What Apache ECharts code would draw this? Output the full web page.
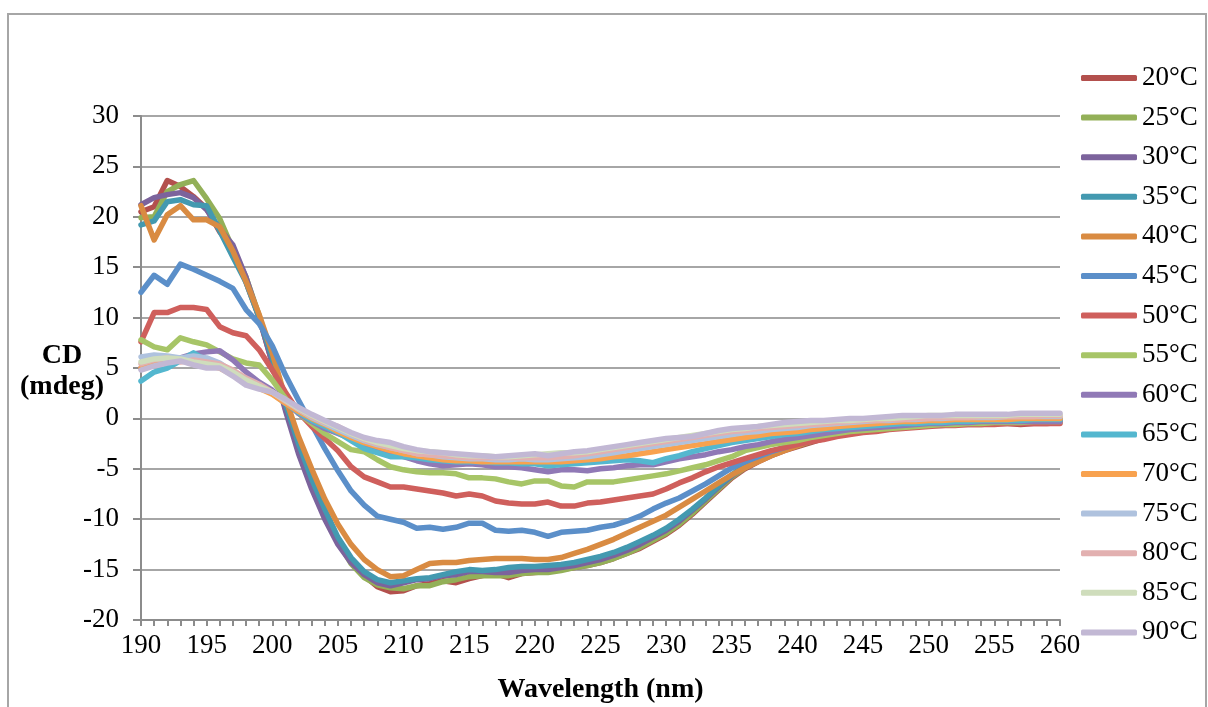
<!DOCTYPE html>
<html lang="en">
<head>
    <meta charset="UTF-8">
    <title>CD</title>
    <script src="https://cdn.jsdelivr.net/npm/echarts@6/dist/echarts.min.js"></script>
</head>
<style>
    body{ margin: 0; background: #fff; }
    #main{ width: 1208px; height: 707px; }
</style>
<body>
<div id="main"></div>
</body>
<script>
    var wavelength = [];
    for (var w = 190; w <= 260; w++) { wavelength.push(w); }

    var names = ['20°C','25°C','30°C','35°C','40°C','45°C','50°C','55°C','60°C','65°C','70°C','75°C','80°C','85°C','90°C'];
    var colors = ['#B3504D','#93B058','#7C639C','#4399B0','#D98B42','#5B8FC9','#CF5F5C','#A7C567','#9079B6','#54B7CF','#F8A24F','#AFC2DE','#E2B0B0','#CFDDBC','#C2B8D4'];

    var t20 = [20.5,21.0,23.6,23.0,22.0,20.8,18.5,16.8,13.5,10.0,5.5,1.0,-3.0,-6.5,-9.5,-12.0,-14.2,-15.6,-16.7,-17.2,-17.1,-16.6,-16.4,-16.1,-16.3,-15.9,-15.6,-15.4,-15.8,-15.4,-15.3,-15.2,-15.0,-14.8,-14.6,-14.3,-13.9,-13.4,-12.9,-12.2,-11.5,-10.6,-9.5,-8.3,-7.1,-5.9,-5.0,-4.3,-3.7,-3.2,-2.8,-2.4,-2.0,-1.7,-1.5,-1.3,-1.1,-1.0,-0.9,-0.8,-0.7,-0.7,-0.6,-0.6,-0.6,-0.5,-0.5,-0.6,-0.5,-0.5,-0.4];
    var t25 = [19.9,20.0,22.5,23.2,23.6,21.8,19.8,16.8,14.0,10.2,5.8,1.0,-2.8,-6.4,-9.5,-12.2,-14.4,-15.8,-16.5,-16.8,-16.9,-16.6,-16.6,-16.2,-16.0,-15.7,-15.6,-15.6,-15.6,-15.4,-15.3,-15.3,-15.1,-14.8,-14.6,-14.3,-13.9,-13.4,-12.8,-12.1,-11.4,-10.5,-9.4,-8.2,-7.0,-5.8,-4.9,-4.2,-3.6,-3.1,-2.7,-2.3,-1.9,-1.6,-1.4,-1.2,-1.1,-1.0,-0.9,-0.8,-0.7,-0.6,-0.6,-0.5,-0.5,-0.4,-0.4,-0.4,-0.4,-0.3,-0.3];
    var t30 = [21.2,21.9,22.2,22.4,21.9,20.7,18.8,17.2,14.0,10.0,5.5,0.8,-3.5,-7.0,-10.0,-12.5,-14.3,-15.5,-16.3,-16.6,-16.3,-16.0,-15.9,-15.6,-15.5,-15.2,-15.2,-15.3,-15.3,-15.1,-15.0,-15.0,-14.8,-14.6,-14.3,-14.0,-13.6,-13.1,-12.5,-11.8,-11.1,-10.2,-9.1,-8.0,-6.8,-5.7,-4.8,-4.1,-3.5,-3.0,-2.5,-2.1,-1.8,-1.5,-1.3,-1.1,-1.0,-0.8,-0.7,-0.6,-0.5,-0.5,-0.4,-0.4,-0.4,-0.3,-0.3,-0.3,-0.3,-0.2,-0.2];
    var t35 = [19.2,19.6,21.5,21.7,21.2,21.1,18.6,16.0,13.5,10.0,6.0,1.5,-2.5,-6.0,-9.0,-11.8,-13.8,-15.2,-16.0,-16.3,-16.1,-15.9,-15.8,-15.5,-15.2,-15.0,-15.1,-15.0,-14.8,-14.7,-14.7,-14.6,-14.5,-14.3,-14.0,-13.7,-13.3,-12.8,-12.2,-11.6,-10.9,-10.0,-9.0,-7.9,-6.7,-5.6,-4.7,-4.0,-3.4,-2.9,-2.4,-2.0,-1.7,-1.4,-1.2,-1.0,-0.9,-0.8,-0.6,-0.5,-0.5,-0.4,-0.4,-0.3,-0.3,-0.3,-0.3,-0.2,-0.2,-0.2,-0.2];
    var t40 = [21.1,17.7,20.2,21.1,19.7,19.7,19.0,16.6,13.6,10.3,6.5,2.0,-1.8,-5.0,-8.0,-10.5,-12.5,-14.0,-15.0,-15.7,-15.6,-15.0,-14.4,-14.3,-14.3,-14.1,-14.0,-13.9,-13.9,-13.9,-14.0,-14.0,-13.8,-13.4,-13.0,-12.5,-12.0,-11.4,-10.8,-10.2,-9.6,-8.8,-8.0,-7.2,-6.4,-5.6,-4.9,-4.3,-3.7,-3.2,-2.7,-2.2,-1.8,-1.5,-1.2,-1.0,-0.8,-0.7,-0.5,-0.4,-0.4,-0.3,-0.3,-0.2,-0.2,-0.2,-0.2,-0.1,-0.1,-0.1,-0.1];
    var t45 = [12.5,14.2,13.3,15.3,14.8,14.2,13.6,12.9,10.8,9.4,7.2,4.3,1.8,-0.6,-3.0,-5.2,-7.2,-8.6,-9.7,-10.0,-10.3,-10.9,-10.8,-11.0,-10.8,-10.4,-10.4,-11.1,-11.2,-11.1,-11.3,-11.7,-11.3,-11.2,-11.1,-10.8,-10.6,-10.2,-9.7,-9.0,-8.4,-7.9,-7.2,-6.5,-5.7,-4.9,-4.3,-3.8,-3.3,-2.9,-2.5,-2.2,-1.9,-1.6,-1.4,-1.2,-1.0,-0.9,-0.8,-0.7,-0.6,-0.5,-0.5,-0.4,-0.4,-0.3,-0.3,-0.3,-0.2,-0.2,-0.2];
    var t50 = [7.6,10.5,10.5,11.0,11.0,10.8,9.1,8.5,8.2,6.8,4.8,2.6,0.6,-0.8,-2.0,-3.2,-4.8,-5.8,-6.3,-6.8,-6.8,-7.0,-7.2,-7.4,-7.7,-7.5,-7.7,-8.2,-8.4,-8.5,-8.5,-8.3,-8.7,-8.7,-8.4,-8.3,-8.1,-7.9,-7.7,-7.5,-7.0,-6.4,-5.9,-5.3,-4.8,-4.4,-4.0,-3.6,-3.2,-2.9,-2.6,-2.3,-2.1,-1.8,-1.6,-1.4,-1.3,-1.1,-1.0,-0.9,-0.8,-0.7,-0.7,-0.6,-0.6,-0.6,-0.5,-0.5,-0.5,-0.5,-0.5];
    var t55 = [7.8,7.1,6.8,8.0,7.6,7.3,6.6,5.9,5.5,5.3,3.8,2.0,0.5,-0.5,-1.5,-2.3,-3.1,-3.3,-4.1,-4.8,-5.1,-5.3,-5.4,-5.4,-5.5,-5.9,-5.9,-6.0,-6.3,-6.5,-6.2,-6.2,-6.7,-6.8,-6.3,-6.3,-6.3,-6.1,-5.9,-5.7,-5.5,-5.2,-4.9,-4.6,-4.2,-3.8,-3.2,-2.9,-2.6,-2.4,-2.2,-1.9,-1.7,-1.5,-1.3,-1.2,-1.1,-1.0,-0.9,-0.8,-0.7,-0.6,-0.6,-0.5,-0.5,-0.4,-0.4,-0.4,-0.3,-0.3,-0.3];
    var t60 = [5.0,5.4,5.8,6.0,6.4,6.6,6.7,5.8,4.6,3.6,2.8,1.6,0.5,-0.3,-1.0,-1.5,-2.0,-2.5,-3.0,-3.4,-3.8,-4.2,-4.5,-4.7,-4.6,-4.5,-4.6,-4.8,-4.8,-4.9,-5.1,-5.3,-5.1,-5.1,-5.2,-5.0,-4.9,-4.7,-4.6,-4.6,-4.3,-4.0,-3.8,-3.6,-3.3,-3.1,-2.8,-2.6,-2.3,-2.1,-1.9,-1.7,-1.5,-1.3,-1.1,-1.0,-0.9,-0.8,-0.7,-0.6,-0.5,-0.5,-0.4,-0.4,-0.3,-0.3,-0.3,-0.3,-0.3,-0.3,-0.3];
    var t65 = [3.7,4.6,5.0,5.7,6.5,5.7,5.2,4.6,3.8,3.2,2.5,1.5,0.6,-0.2,-0.8,-1.4,-2.2,-3.0,-3.4,-3.8,-3.8,-3.9,-4.1,-4.2,-4.3,-4.3,-4.3,-4.4,-4.4,-4.5,-4.5,-4.7,-4.6,-4.5,-4.4,-4.3,-4.2,-4.1,-4.2,-4.4,-4.0,-3.7,-3.3,-3.0,-2.7,-2.4,-2.2,-2.0,-1.8,-1.6,-1.5,-1.3,-1.1,-1.0,-0.9,-0.8,-0.7,-0.6,-0.5,-0.5,-0.4,-0.4,-0.3,-0.3,-0.2,-0.2,-0.2,-0.2,-0.1,-0.1,-0.1];
    var t70 = [5.0,5.5,5.8,5.8,5.5,5.3,5.0,4.3,3.6,3.0,2.4,1.5,0.7,0.0,-0.6,-1.3,-1.9,-2.4,-2.8,-3.2,-3.5,-3.7,-3.9,-4.1,-4.2,-4.2,-4.3,-4.3,-4.3,-4.3,-4.3,-4.3,-4.3,-4.2,-4.1,-4.0,-3.8,-3.7,-3.5,-3.3,-3.1,-2.9,-2.7,-2.5,-2.3,-2.1,-1.9,-1.7,-1.5,-1.4,-1.3,-1.1,-1.0,-0.8,-0.7,-0.6,-0.5,-0.4,-0.3,-0.3,-0.2,-0.2,-0.1,-0.1,-0.1,-0.1,-0.1,0.0,0.0,0.0,0.0];
    var t75 = [6.1,6.3,6.2,6.0,6.2,6.0,5.5,4.6,3.6,3.0,2.6,1.8,0.9,0.1,-0.5,-1.1,-1.7,-2.2,-2.6,-2.9,-3.2,-3.5,-3.6,-3.8,-3.9,-4.0,-4.0,-4.1,-4.1,-4.0,-4.1,-4.1,-4.0,-3.9,-3.8,-3.6,-3.4,-3.2,-3.0,-2.8,-2.6,-2.4,-2.2,-2.0,-1.8,-1.6,-1.4,-1.3,-1.1,-1.0,-0.9,-0.7,-0.6,-0.5,-0.4,-0.3,-0.2,-0.2,-0.1,-0.1,0.0,0.0,0.1,0.1,0.1,0.1,0.2,0.2,0.2,0.2,0.2];
    var t80 = [5.4,5.8,6.0,5.6,5.8,5.6,5.4,4.8,4.0,3.4,2.6,1.7,0.9,0.2,-0.4,-0.8,-1.5,-2.1,-2.5,-2.9,-3.2,-3.5,-3.6,-3.7,-3.8,-3.9,-3.9,-3.9,-3.9,-3.9,-3.9,-3.9,-3.8,-3.7,-3.5,-3.3,-3.1,-2.9,-2.7,-2.5,-2.3,-2.1,-1.9,-1.7,-1.5,-1.3,-1.2,-1.0,-0.9,-0.8,-0.7,-0.6,-0.5,-0.4,-0.3,-0.2,-0.2,-0.1,-0.1,0.0,0.0,0.1,0.1,0.1,0.2,0.2,0.2,0.2,0.2,0.3,0.3];
    var t85 = [5.6,5.9,6.0,5.9,5.6,5.4,5.2,4.6,3.8,3.2,2.6,1.8,1.0,0.3,-0.3,-0.9,-1.5,-2.0,-2.4,-2.7,-3.0,-3.2,-3.3,-3.4,-3.6,-3.7,-3.7,-3.8,-3.8,-3.7,-3.6,-3.5,-3.4,-3.4,-3.3,-3.1,-2.9,-2.7,-2.5,-2.3,-2.1,-1.9,-1.7,-1.5,-1.3,-1.1,-1.0,-0.8,-0.7,-0.6,-0.5,-0.4,-0.3,-0.2,-0.2,-0.1,0.0,0.0,0.1,0.2,0.3,0.3,0.3,0.3,0.3,0.3,0.3,0.4,0.4,0.4,0.4];
    var t90 = [4.8,5.2,5.5,5.7,5.3,5.0,5.0,4.2,3.3,2.9,2.6,1.9,1.1,0.4,-0.2,-0.8,-1.4,-1.9,-2.2,-2.4,-2.8,-3.1,-3.3,-3.4,-3.5,-3.6,-3.7,-3.8,-3.7,-3.6,-3.5,-3.7,-3.5,-3.3,-3.2,-3.0,-2.8,-2.6,-2.4,-2.2,-2.0,-1.9,-1.8,-1.5,-1.2,-1.0,-0.9,-0.8,-0.6,-0.4,-0.3,-0.2,-0.2,-0.1,0.0,0.0,0.1,0.2,0.3,0.3,0.3,0.3,0.4,0.4,0.4,0.4,0.4,0.5,0.5,0.5,0.5];

    var values = [t20,t25,t30,t35,t40,t45,t50,t55,t60,t65,t70,t75,t80,t85,t90];

    var font = '"Liberation Serif", serif';
    var series = [];
    for (var i = 0; i < names.length; i++) {
        var pts = [];
        for (var j = 0; j < wavelength.length; j++) {
            pts.push([wavelength[j], values[i][j]]);
        }
        series.push({
            name: names[i],
            type: 'line',
            data: pts,
            showSymbol: false,
            symbol: 'none',
            color: colors[i],
            lineStyle: { width: 5.5, color: colors[i], join: 'round', cap: 'round' }
        });
    }

    var myChart = echarts.init(document.getElementById('main'));
    var option = {
        animation: false,
        backgroundColor: '#fff',
        grid: { left: 141, right: 148, top: 116, bottom: 87, outerBoundsMode: 'none' },
        legend: {
            orient: 'vertical',
            left: 1076,
            top: 59,
            icon: 'roundRect',
            itemWidth: 56,
            itemHeight: 6,
            itemGap: 11.6,
            data: names,
            textStyle: { fontFamily: font, fontSize: 27, lineHeight: 28, color: '#000' }
        },
        graphic: [{
            type: 'rect',
            shape: { x: 8, y: 14, width: 1198, height: 730 },
            style: { fill: null, stroke: '#a6a6a6', lineWidth: 2 },
            silent: true
        }, {
            // y轴标题
            type: 'text',
            left: 20,
            top: 340,
            style: {
                text: 'CD\n(mdeg)',
                fill: '#000',
                font: 'bold 28px "Liberation Serif", serif',
                textAlign: 'center',
                lineHeight: 31
            }
        }],
        xAxis: {
            type: 'value',
            min: 190,
            max: 260,
            interval: 5,
            name: 'Wavelength (nm)',
            nameLocation: 'middle',
            nameGap: 56,
            nameTextStyle: { fontFamily: font, fontSize: 28, fontWeight: 'bold', color: '#000' },
            axisLine: { onZero: false, lineStyle: { color: '#8c8c8c', width: 2 } },
            axisTick: { length: 6, lineStyle: { color: '#8c8c8c', width: 2 } },
            minorTick: { show: true, splitNumber: 5, length: 6, lineStyle: { color: '#8c8c8c', width: 2 } },
            axisLabel: { fontFamily: font, fontSize: 27, color: '#000', margin: 12 },
            splitLine: { show: false }
        },
        yAxis: {
            type: 'value',
            min: -20,
            max: 30,
            interval: 5,
            axisLine: { show: true, lineStyle: { color: '#8c8c8c', width: 2 } },
            axisTick: { show: true, length: 8, lineStyle: { color: '#8c8c8c', width: 2 } },
            axisLabel: { fontFamily: font, fontSize: 27, color: '#000', margin: 22 },
            splitLine: { lineStyle: { color: '#a6a6a6', width: 2 } }
        },
        series: series
    };
    myChart.setOption(option);
</script>
</html>
